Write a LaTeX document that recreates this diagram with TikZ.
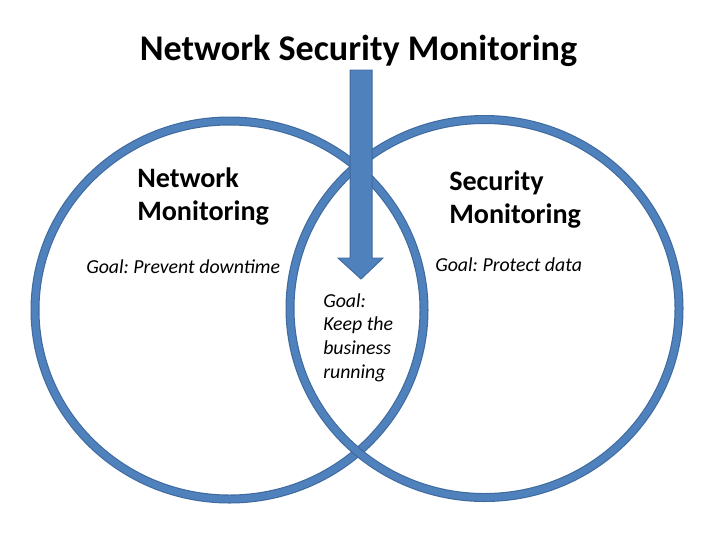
\documentclass[tikz,border=0pt]{standalone}
\usepackage{fontspec}
\setmainfont{Carlito}
\definecolor{ringfill}{HTML}{4F81BD}
\definecolor{ringedge}{HTML}{3F6A9E}
\tikzset{
    ring/.style = {draw = ringedge, line width = 0.8pt, double = ringfill, double distance = 4.8pt},
    heading/.style = {font = \fontsize{25.7}{30}\selectfont\bfseries, inner sep = 0pt},
    setname/.style = {font = \fontsize{20}{23.9}\selectfont\bfseries, align = left, inner sep = 0pt},
    goal/.style = {font = \fontsize{14.1}{17}\selectfont\itshape\frenchspacing, align = left, inner sep = 0pt}
}
\begin{document}
\begin{tikzpicture}[x = 0.025cm, y = -0.025cm]
    \useasboundingbox (0,0) rectangle (720,540);
    \fill [white] (0,0) rectangle (720,540);

    % the two rings
    \draw [ring] (229.5,310) ellipse [x radius = 194.5, y radius = 189];
    \draw [ring] (484.5,308.5) ellipse [x radius = 194.5, y radius = 189];

    % the arrow
    \draw [fill = ringfill, draw = ringedge, line width = 0.7pt]
        (350,70) -- (372,70) -- (372,258) -- (383,258) -- (361,279)
        -- (338,258) -- (350,258) -- cycle;

    \node [heading] (title) at (358.5,51) {Network Security Monitoring};
    \node [setname, anchor = north west] (network) at (137,167) {Network\\Monitoring};
    \node [setname, anchor = north west] (security) at (449,170) {Security\\Monitoring};
    \node [goal, anchor = west] (goalnet) at (86,267) {Goal: Prevent downtime};
    \node [goal, anchor = west] (goalsec) at (435,265) {Goal: Protect data};
    \node [goal, anchor = north west] (goalboth) at (323,293) {Goal:\\Keep the\\business\\running};
\end{tikzpicture}
\end{document}
